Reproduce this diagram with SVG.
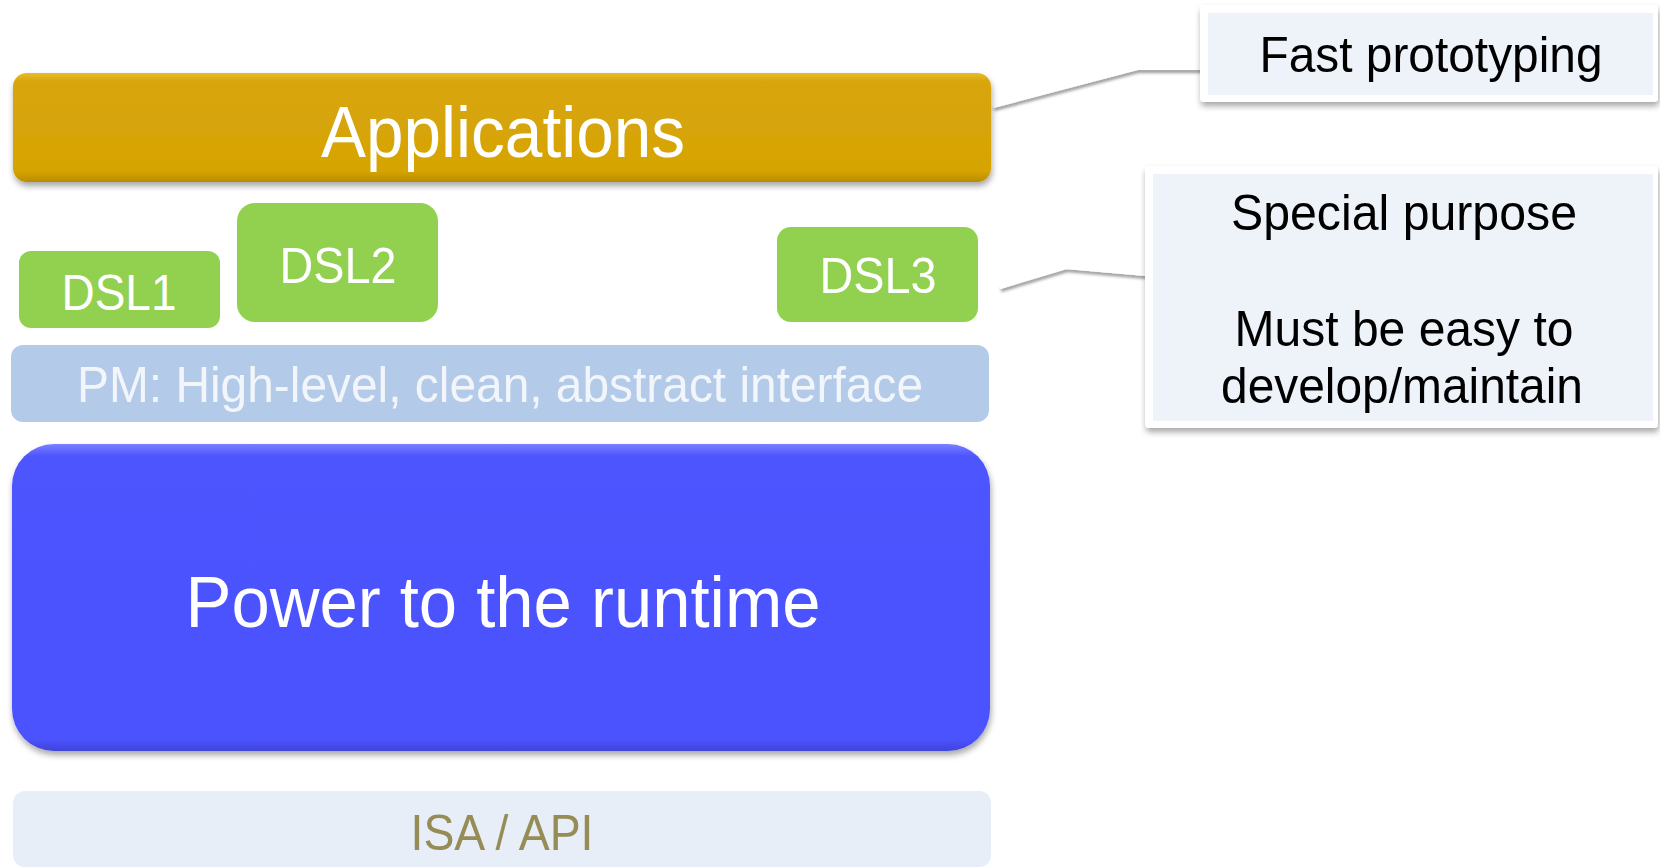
<svg xmlns="http://www.w3.org/2000/svg" width="1660" height="867" viewBox="0 0 1660 867">
  <defs>
    <filter id="shadow" x="-5%" y="-10%" width="110%" height="130%">
      <feDropShadow dx="1" dy="4" stdDeviation="3" flood-color="#000" flood-opacity="0.35"/>
    </filter>
    <filter id="lineShadow" x="-10%" y="-50%" width="120%" height="200%">
      <feDropShadow dx="1" dy="3" stdDeviation="1.5" flood-color="#000" flood-opacity="0.4"/>
    </filter>
    <linearGradient id="goldGrad" x1="0" y1="0" x2="0" y2="1">
      <stop offset="0" stop-color="#E9BC2A"/>
      <stop offset="0.08" stop-color="#D8A507"/>
      <stop offset="0.9" stop-color="#D6A406"/>
      <stop offset="1" stop-color="#B88C04"/>
    </linearGradient>
    <linearGradient id="blueGrad" x1="0" y1="0" x2="0" y2="1">
      <stop offset="0" stop-color="#7A80FF"/>
      <stop offset="0.04" stop-color="#4D54FF"/>
      <stop offset="0.96" stop-color="#4B52FF"/>
      <stop offset="1" stop-color="#3F45D8"/>
    </linearGradient>
    <style>
      .t { font-family: "Liberation Sans", Arial, sans-serif; text-anchor: middle; }
      .white { fill: #FFFFFF; }
      .dsl { fill: #92D050; }
      .callout-outer { fill: #FFFFFF; }
      .callout-inner { fill: #EEF3FA; }
      .conn { fill: none; stroke: #FFFFFF; stroke-width: 4; stroke-linejoin: miter; }
    </style>
  </defs>
  <rect width="1660" height="867" fill="#FFFFFF"/>

  <g id="connectors">
    <polyline class="conn" filter="url(#lineShadow)" points="993,106 1137,68 1202,68"/>
    <polyline class="conn" filter="url(#lineShadow)" points="1000,287 1066,267 1146,274"/>
  </g>

  <g id="applications">
    <rect x="13" y="73" width="978" height="109" rx="14" fill="url(#goldGrad)" filter="url(#shadow)"/>
    <text class="t white" x="503" y="157" font-size="72" textLength="364" lengthAdjust="spacingAndGlyphs">Applications</text>
  </g>

  <g id="dsl1">
    <rect class="dsl" x="19" y="251" width="201" height="77" rx="12"/>
    <text class="t white" x="119" y="310" font-size="50" textLength="115" lengthAdjust="spacingAndGlyphs">DSL1</text>
  </g>
  <g id="dsl2">
    <rect class="dsl" x="237" y="203" width="201" height="119" rx="18"/>
    <text class="t white" x="338" y="283" font-size="50" textLength="117" lengthAdjust="spacingAndGlyphs">DSL2</text>
  </g>
  <g id="dsl3">
    <rect class="dsl" x="777" y="227" width="201" height="95" rx="14"/>
    <text class="t white" x="878" y="293" font-size="50" textLength="117" lengthAdjust="spacingAndGlyphs">DSL3</text>
  </g>

  <g id="pm">
    <rect x="11" y="345" width="978" height="77" rx="12" fill="#B4CAE9"/>
    <text class="t" x="500" y="402" font-size="50" fill="#F2F6FB" textLength="846" lengthAdjust="spacingAndGlyphs">PM: High-level, clean, abstract interface</text>
  </g>

  <g id="runtime">
    <rect x="12" y="444" width="978" height="307" rx="42" fill="url(#blueGrad)" filter="url(#shadow)"/>
    <text class="t white" x="503" y="627" font-size="72" textLength="635" lengthAdjust="spacingAndGlyphs">Power to the runtime</text>
  </g>

  <g id="isa">
    <rect x="13" y="791" width="978" height="76" rx="12" fill="#E7EEF8"/>
    <text class="t" x="502" y="850" font-size="50" fill="#968C55" textLength="183" lengthAdjust="spacingAndGlyphs">ISA / API</text>
  </g>

  <g id="callout-fast">
    <rect class="callout-outer" x="1200" y="5" width="458" height="97" rx="4" filter="url(#shadow)"/>
    <rect class="callout-inner" x="1208" y="13" width="445" height="82"/>
    <text class="t" x="1431" y="72" font-size="50" fill="#000000" textLength="343" lengthAdjust="spacingAndGlyphs">Fast prototyping</text>
  </g>

  <g id="callout-special">
    <rect class="callout-outer" x="1145" y="166" width="513" height="262" rx="4" filter="url(#shadow)"/>
    <rect class="callout-inner" x="1153" y="174" width="500" height="247"/>
    <text class="t" x="1404" y="230" font-size="50" fill="#000000" textLength="346" lengthAdjust="spacingAndGlyphs">Special purpose</text>
    <text class="t" x="1404" y="346" font-size="50" fill="#000000" textLength="339" lengthAdjust="spacingAndGlyphs">Must be easy to</text>
    <text class="t" x="1402" y="403" font-size="50" fill="#000000" textLength="362" lengthAdjust="spacingAndGlyphs">develop/maintain</text>
  </g>
</svg>
